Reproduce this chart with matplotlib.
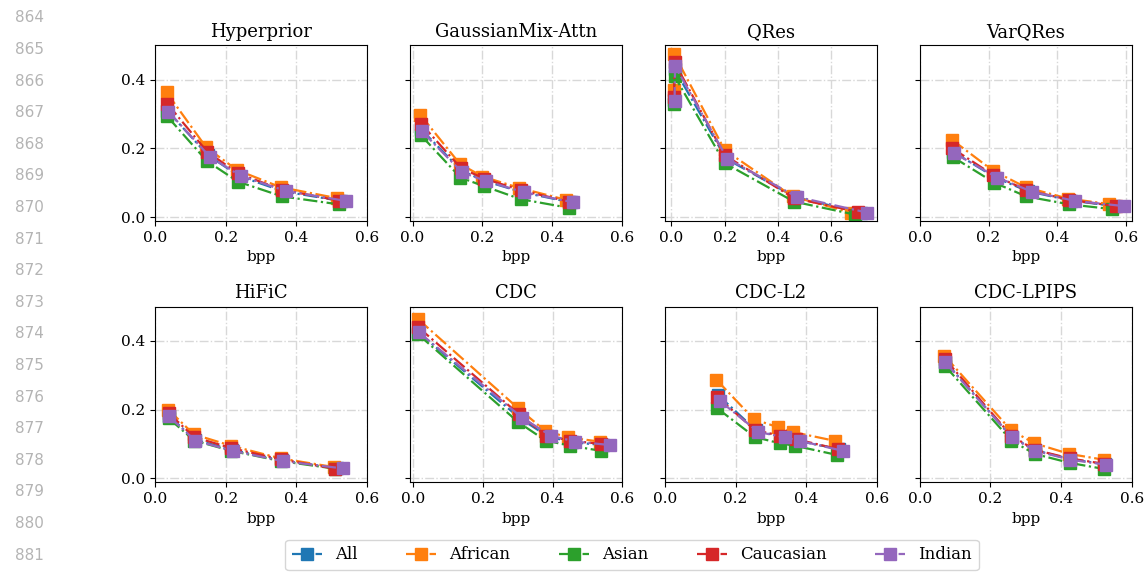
import matplotlib
matplotlib.use('Agg')
import matplotlib.pyplot as plt

# groups and colours
groups = ['All', 'African', 'Asian', 'Caucasian', 'Indian']
colors = ['#1f77b4', '#ff7f0e', '#2ca02c', '#d62728', '#9467bd']

models = ['Hyperprior', 'GaussianMix-Attn', 'QRes', 'VarQRes',
          'HiFiC', 'CDC', 'CDC-L2', 'CDC-LPIPS']

# bpp / error values per group (All, African, Asian, Caucasian, Indian)
hyper_bpp = [[0.035, 0.150, 0.237, 0.362, 0.525],
             [0.033, 0.145, 0.232, 0.355, 0.515],
             [0.035, 0.147, 0.235, 0.360, 0.520],
             [0.035, 0.148, 0.235, 0.358, 0.520],
             [0.038, 0.155, 0.242, 0.370, 0.540]]
hyper_val = [[0.310, 0.180, 0.120, 0.075, 0.047],
             [0.363, 0.203, 0.137, 0.087, 0.055],
             [0.293, 0.163, 0.103, 0.060, 0.037],
             [0.330, 0.190, 0.127, 0.080, 0.048],
             [0.307, 0.176, 0.120, 0.076, 0.047]]

gmix_bpp = [[0.025, 0.140, 0.207, 0.315, 0.452],
            [0.022, 0.135, 0.200, 0.305, 0.440],
            [0.024, 0.137, 0.204, 0.310, 0.447],
            [0.024, 0.138, 0.205, 0.310, 0.447],
            [0.026, 0.142, 0.210, 0.320, 0.460]]
gmix_val = [[0.255, 0.135, 0.105, 0.072, 0.043],
            [0.298, 0.155, 0.118, 0.085, 0.050],
            [0.238, 0.115, 0.090, 0.052, 0.027],
            [0.272, 0.143, 0.112, 0.078, 0.045],
            [0.250, 0.130, 0.105, 0.072, 0.043]]

qres_bpp = [[0.010, 0.012, 0.205, 0.465, 0.710],
            [0.008, 0.010, 0.200, 0.455, 0.675],
            [0.010, 0.012, 0.200, 0.460, 0.690],
            [0.010, 0.012, 0.200, 0.460, 0.700],
            [0.012, 0.014, 0.210, 0.470, 0.735]]
qres_val = [[0.340, 0.430, 0.170, 0.058, 0.013],
            [0.370, 0.475, 0.195, 0.060, 0.013],
            [0.330, 0.410, 0.157, 0.045, 0.007],
            [0.350, 0.450, 0.180, 0.055, 0.015],
            [0.337, 0.439, 0.170, 0.059, 0.013]]

varq_bpp = [[0.097, 0.220, 0.315, 0.440, 0.565],
            [0.094, 0.213, 0.308, 0.430, 0.550],
            [0.096, 0.217, 0.310, 0.435, 0.560],
            [0.095, 0.214, 0.310, 0.435, 0.570],
            [0.100, 0.226, 0.326, 0.452, 0.593]]
varq_val = [[0.190, 0.115, 0.075, 0.048, 0.032],
            [0.225, 0.135, 0.087, 0.054, 0.038],
            [0.175, 0.100, 0.060, 0.037, 0.023],
            [0.200, 0.122, 0.079, 0.050, 0.032],
            [0.186, 0.115, 0.074, 0.047, 0.032]]

hific_bpp = [[0.040, 0.112, 0.217, 0.360, 0.515],
             [0.038, 0.110, 0.215, 0.355, 0.505],
             [0.039, 0.111, 0.216, 0.357, 0.510],
             [0.039, 0.111, 0.216, 0.357, 0.510],
             [0.040, 0.114, 0.220, 0.362, 0.530]]
hific_val = [[0.182, 0.113, 0.083, 0.052, 0.029],
             [0.200, 0.128, 0.095, 0.058, 0.033],
             [0.175, 0.110, 0.080, 0.050, 0.028],
             [0.190, 0.120, 0.088, 0.055, 0.028],
             [0.180, 0.110, 0.080, 0.050, 0.029]]

cdc_bpp = [[0.014, 0.306, 0.385, 0.455, 0.545],
           [0.013, 0.300, 0.378, 0.445, 0.535],
           [0.014, 0.302, 0.380, 0.450, 0.540],
           [0.014, 0.303, 0.382, 0.450, 0.540],
           [0.016, 0.312, 0.395, 0.465, 0.564]]
cdc_val = [[0.425, 0.175, 0.123, 0.105, 0.097],
           [0.464, 0.205, 0.139, 0.119, 0.107],
           [0.419, 0.163, 0.110, 0.095, 0.080],
           [0.440, 0.187, 0.124, 0.110, 0.100],
           [0.425, 0.177, 0.124, 0.107, 0.097]]

cdcl2_bpp = [[0.150, 0.258, 0.330, 0.372, 0.492],
             [0.146, 0.252, 0.319, 0.361, 0.481],
             [0.148, 0.255, 0.325, 0.367, 0.487],
             [0.149, 0.256, 0.327, 0.370, 0.490],
             [0.155, 0.264, 0.340, 0.382, 0.503]]
cdcl2_val = [[0.243, 0.140, 0.120, 0.110, 0.085],
             [0.287, 0.172, 0.149, 0.135, 0.109],
             [0.204, 0.120, 0.102, 0.095, 0.068],
             [0.236, 0.140, 0.124, 0.114, 0.085],
             [0.226, 0.135, 0.119, 0.109, 0.080]]

lpips_bpp = [[0.072, 0.260, 0.326, 0.425, 0.523],
             [0.070, 0.258, 0.324, 0.423, 0.521],
             [0.071, 0.259, 0.325, 0.424, 0.522],
             [0.071, 0.259, 0.325, 0.424, 0.522],
             [0.072, 0.261, 0.327, 0.426, 0.525]]
lpips_val = [[0.340, 0.120, 0.082, 0.056, 0.041],
             [0.357, 0.140, 0.102, 0.071, 0.054],
             [0.328, 0.110, 0.071, 0.045, 0.027],
             [0.348, 0.124, 0.083, 0.058, 0.042],
             [0.338, 0.119, 0.080, 0.054, 0.040]]

all_bpp = [hyper_bpp, gmix_bpp, qres_bpp, varq_bpp,
           hific_bpp, cdc_bpp, cdcl2_bpp, lpips_bpp]
all_val = [hyper_val, gmix_val, qres_val, varq_val,
           hific_val, cdc_val, cdcl2_val, lpips_val]
xlims = [(0, 0.6), (-0.008, 0.6), (-0.025, 0.772), (0, 0.617),
         (0, 0.6), (-0.01, 0.6), (0, 0.6), (0, 0.6)]


def main():
    plt.rcParams['font.family'] = 'DejaVu Serif'
    fig, axes = plt.subplots(2, 4, figsize=(11.47, 5.73), dpi=100, sharey=True)
    fig.subplots_adjust(left=0.135, right=0.987, top=0.921, bottom=0.158,
                        wspace=0.2, hspace=0.485)

    for k, ax in enumerate(axes.flat):
        for g in range(len(groups)):
            ax.plot(all_bpp[k][g], all_val[k][g], linestyle='-.', marker='s',
                    color=colors[g], linewidth=1.6, markersize=8,
                    label=groups[g])
        ax.set_title(models[k], fontsize=13)
        ax.set_xlabel('bpp', fontsize=11)
        ax.set_xlim(xlims[k])
        ax.set_ylim(-0.012, 0.5)
        ax.set_xticks([0.0, 0.2, 0.4, 0.6])
        ax.set_yticks([0.0, 0.2, 0.4])
        ax.tick_params(labelsize=11)
        ax.grid(True, linestyle='-.', color='#d8d8d8', linewidth=1)
        ax.set_axisbelow(True)

    handles, labels = axes[0, 0].get_legend_handles_labels()
    fig.legend(handles, labels, loc='upper center', ncol=5,
               bbox_to_anchor=(0.551, 0.058), fontsize=12,
               columnspacing=2.9, handlelength=1.8, borderaxespad=0)

    # line numbers of the paper page
    for i, num in enumerate(range(864, 882)):
        y = 1 - (18 + i * 31.6) / 573
        fig.text(0.026, y, str(num), fontsize=11, color='#b4b4b4',
                 family='DejaVu Sans', ha='center', va='center')

    fig.savefig('out.png', dpi=100)


if __name__ == '__main__':
    main()
